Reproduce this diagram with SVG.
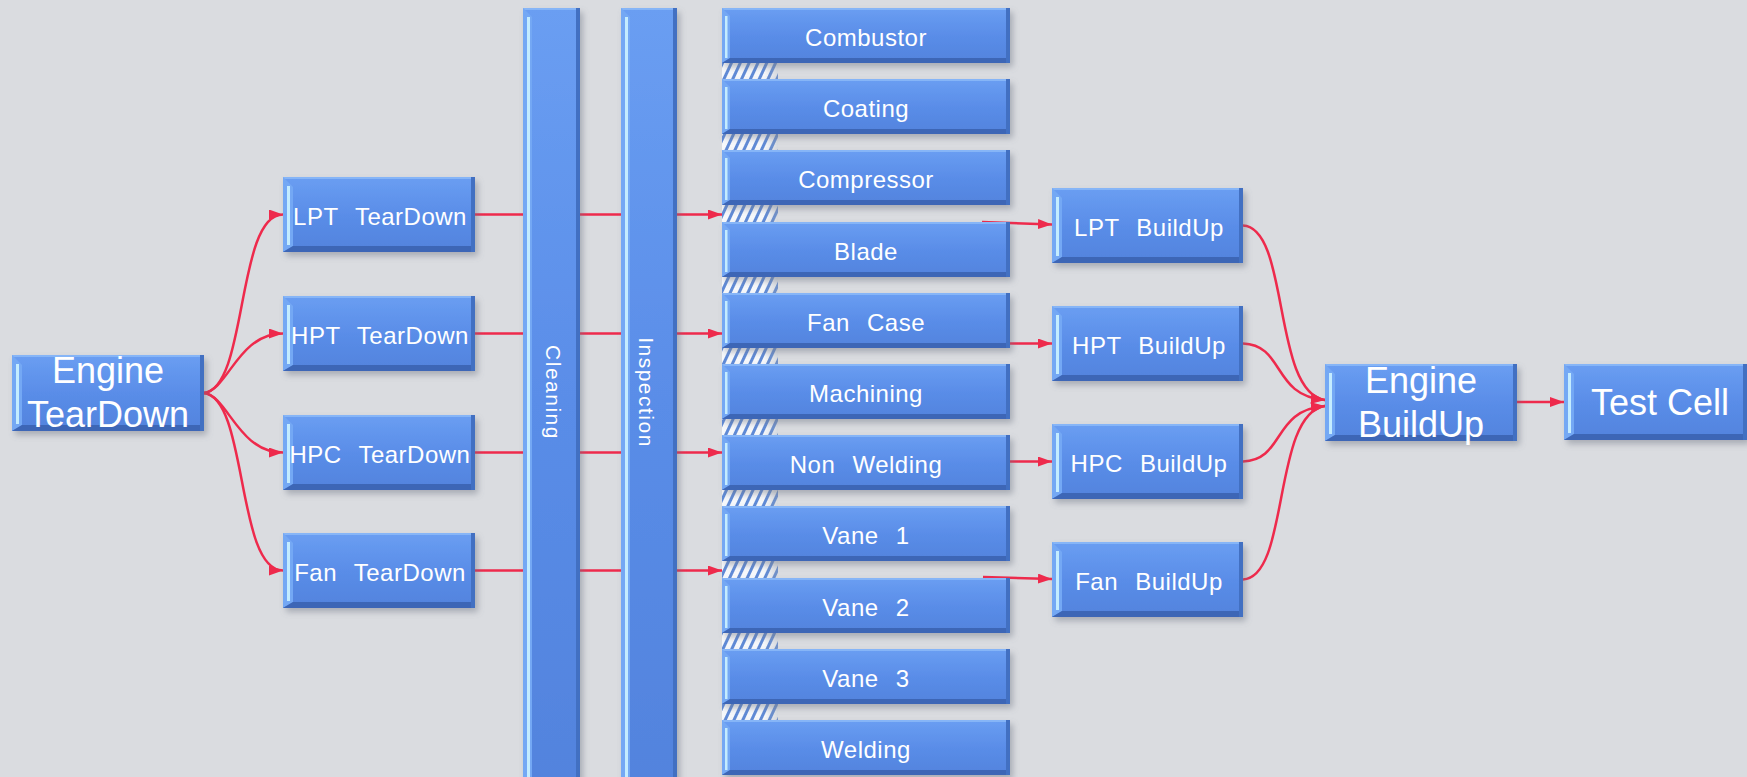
<svg xmlns="http://www.w3.org/2000/svg" width="1747" height="777" viewBox="0 0 1747 777">
<defs>
<style>
.face{fill:url(#faceGrad);filter:url(#sh)}
.bl{fill:#74A8F4}
.hl{fill:#C4ECFF}
.bb{fill:#3D66B6}
.br{fill:#4270C2}
.bt{fill:#86B5F7}
.hatch{fill:url(#hatchPat)}
.hfade{fill:url(#hatchFade)}
.lbl{font-family:"Liberation Sans",Arial,sans-serif;fill:#FFFFFF;text-anchor:middle}
.m{font-size:24px;letter-spacing:0.5px;word-spacing:10px}
.big{font-size:36px}
.v{font-size:21px;letter-spacing:1.5px}
.con{fill:none;stroke:#EE2A4C;stroke-width:2.5;marker-end:url(#arr)}
</style>
<linearGradient id="faceGrad" x1="0" y1="0" x2="0" y2="1">
<stop offset="0" stop-color="#6A9EF2"/>
<stop offset="0.5" stop-color="#5A8DE8"/>
<stop offset="1" stop-color="#5283DD"/>
</linearGradient>
<linearGradient id="hatchFade" x1="0" y1="0" x2="1" y2="0">
<stop offset="0.75" stop-color="#9AA0AA" stop-opacity="0"/>
<stop offset="1" stop-color="#9AA0AA" stop-opacity="0.35"/>
</linearGradient>
<pattern id="hatchPat" patternUnits="userSpaceOnUse" width="8" height="8" patternTransform="rotate(25)">
<rect width="8" height="8" fill="#F6F8FB"/>
<rect width="3" height="8" fill="#5F8AD6"/>
</pattern>
<filter id="sh" x="-10%" y="-10%" width="130%" height="140%">
<feDropShadow dx="3" dy="4" stdDeviation="3" flood-color="#6A7280" flood-opacity="0.45"/>
</filter>
<marker id="arr" markerUnits="userSpaceOnUse" markerWidth="14" markerHeight="10" refX="14" refY="5" orient="auto">
<path d="M0,0 L14,5 L0,10 z" fill="#EE2A4C"/>
</marker>
</defs>
<rect width="1747" height="777" fill="#DADCE0"/>

<g id="connectors">
<path class="con" d="M204,393 C248,388 236,214.5 283,214.5"/>
<path class="con" d="M204,393 C228,390 238,333.5 283,333.5"/>
<path class="con" d="M204,393 C228,396 238,452.5 283,452.5"/>
<path class="con" d="M204,393 C248,398 236,570.5 283,570.5"/>
<path class="con" d="M475,214.5 H722"/>
<path class="con" d="M475,333.5 H722"/>
<path class="con" d="M475,452.5 H722"/>
<path class="con" d="M475,570.5 H722"/>
<path class="con" d="M982,222 L1052,224.5"/>
<path class="con" d="M1010,343.5 H1052"/>
<path class="con" d="M1010,461.5 H1052"/>
<path class="con" d="M983,577 L1052,579"/>
<path class="con" d="M1243,225.5 C1290,228 1272,392 1325,400"/>
<path class="con" d="M1243,343.5 C1285,345 1272,396 1325,400"/>
<path class="con" d="M1243,461.5 C1285,460 1272,410 1325,406"/>
<path class="con" d="M1243,579.5 C1290,577 1272,414 1325,406"/>
<path class="con" d="M1517,402 H1564"/>
</g>

<g id="engine-teardown">
<rect class="face" x="12" y="355" width="192" height="76"/>
<rect class="bt" x="12" y="355" width="192" height="2"/>
<polygon class="bl" points="12,355 22,365 22,425 12,431"/>
<rect class="hl" x="16" y="364" width="3" height="60"/>
<polygon class="bb" points="12,431 22,425 204,425 204,431"/>
<rect class="br" x="200" y="355" width="4" height="76"/>
<text class="lbl big" x="108" y="383">Engine</text>
<text class="lbl big" x="108" y="427">TearDown</text>
</g>

<g id="lpt-teardown">
<rect class="face" x="283" y="177" width="192" height="75"/>
<rect class="bt" x="283" y="177" width="192" height="2"/>
<polygon class="bl" points="283,177 293,187 293,246 283,252"/>
<rect class="hl" x="287" y="186" width="3" height="59"/>
<polygon class="bb" points="283,252 293,246 475,246 475,252"/>
<rect class="br" x="471" y="177" width="4" height="75"/>
<text class="lbl m" x="380" y="225">LPT TearDown</text>
</g>
<g id="hpt-teardown">
<rect class="face" x="283" y="296" width="192" height="75"/>
<rect class="bt" x="283" y="296" width="192" height="2"/>
<polygon class="bl" points="283,296 293,306 293,365 283,371"/>
<rect class="hl" x="287" y="305" width="3" height="59"/>
<polygon class="bb" points="283,371 293,365 475,365 475,371"/>
<rect class="br" x="471" y="296" width="4" height="75"/>
<text class="lbl m" x="380" y="344">HPT TearDown</text>
</g>
<g id="hpc-teardown">
<rect class="face" x="283" y="415" width="192" height="75"/>
<rect class="bt" x="283" y="415" width="192" height="2"/>
<polygon class="bl" points="283,415 293,425 293,484 283,490"/>
<rect class="hl" x="287" y="424" width="3" height="59"/>
<polygon class="bb" points="283,490 293,484 475,484 475,490"/>
<rect class="br" x="471" y="415" width="4" height="75"/>
<text class="lbl m" x="380" y="463">HPC TearDown</text>
</g>
<g id="fan-teardown">
<rect class="face" x="283" y="533" width="192" height="75"/>
<rect class="bt" x="283" y="533" width="192" height="2"/>
<polygon class="bl" points="283,533 293,543 293,602 283,608"/>
<rect class="hl" x="287" y="542" width="3" height="59"/>
<polygon class="bb" points="283,608 293,602 475,602 475,608"/>
<rect class="br" x="471" y="533" width="4" height="75"/>
<text class="lbl m" x="380" y="581">Fan TearDown</text>
</g>

<g id="cleaning">
<rect class="face" x="523" y="8" width="57" height="780"/>
<rect class="bt" x="523" y="8" width="57" height="2"/>
<polygon class="bl" points="523,8 532,17 532,788 523,788"/>
<rect class="hl" x="527" y="17" width="3" height="771"/>
<rect class="br" x="576" y="8" width="4" height="780"/>
<text class="lbl v" transform="translate(546,392.5) rotate(90)">Cleaning</text>
</g>
<g id="inspection">
<rect class="face" x="621" y="8" width="56" height="780"/>
<rect class="bt" x="621" y="8" width="56" height="2"/>
<polygon class="bl" points="621,8 630,17 630,788 621,788"/>
<rect class="hl" x="625" y="17" width="3" height="771"/>
<rect class="br" x="673" y="8" width="4" height="780"/>
<text class="lbl v" transform="translate(639,392.5) rotate(90)">Inspection</text>
</g>

<g id="hatches">
<rect class="hatch" x="722" y="63" width="56" height="16"/><rect class="hfade" x="722" y="63" width="56" height="16"/>
<rect class="hatch" x="722" y="134" width="56" height="16"/><rect class="hfade" x="722" y="134" width="56" height="16"/>
<rect class="hatch" x="722" y="205" width="56" height="17"/><rect class="hfade" x="722" y="205" width="56" height="17"/>
<rect class="hatch" x="722" y="277" width="56" height="16"/><rect class="hfade" x="722" y="277" width="56" height="16"/>
<rect class="hatch" x="722" y="348" width="56" height="16"/><rect class="hfade" x="722" y="348" width="56" height="16"/>
<rect class="hatch" x="722" y="419" width="56" height="16"/><rect class="hfade" x="722" y="419" width="56" height="16"/>
<rect class="hatch" x="722" y="490" width="56" height="16"/><rect class="hfade" x="722" y="490" width="56" height="16"/>
<rect class="hatch" x="722" y="561" width="56" height="17"/><rect class="hfade" x="722" y="561" width="56" height="17"/>
<rect class="hatch" x="722" y="633" width="56" height="16"/><rect class="hfade" x="722" y="633" width="56" height="16"/>
<rect class="hatch" x="722" y="704" width="56" height="16"/><rect class="hfade" x="722" y="704" width="56" height="16"/>
</g>

<g id="combustor">
<rect class="face" x="722" y="8" width="288" height="55"/>
<rect class="bt" x="722" y="8" width="288" height="2"/>
<polygon class="bl" points="722,8 730,16 730,58 722,63"/>
<rect class="hl" x="725" y="16" width="2.5" height="42"/>
<polygon class="bb" points="722,63 730,58 1010,58 1010,63"/>
<rect class="br" x="1006" y="8" width="4" height="55"/>
<text class="lbl m" x="866" y="46">Combustor</text>
</g>
<g id="coating">
<rect class="face" x="722" y="79" width="288" height="55"/>
<rect class="bt" x="722" y="79" width="288" height="2"/>
<polygon class="bl" points="722,79 730,87 730,129 722,134"/>
<rect class="hl" x="725" y="87" width="2.5" height="42"/>
<polygon class="bb" points="722,134 730,129 1010,129 1010,134"/>
<rect class="br" x="1006" y="79" width="4" height="55"/>
<text class="lbl m" x="866" y="117">Coating</text>
</g>
<g id="compressor">
<rect class="face" x="722" y="150" width="288" height="55"/>
<rect class="bt" x="722" y="150" width="288" height="2"/>
<polygon class="bl" points="722,150 730,158 730,200 722,205"/>
<rect class="hl" x="725" y="158" width="2.5" height="42"/>
<polygon class="bb" points="722,205 730,200 1010,200 1010,205"/>
<rect class="br" x="1006" y="150" width="4" height="55"/>
<text class="lbl m" x="866" y="188">Compressor</text>
</g>
<g id="blade">
<rect class="face" x="722" y="222" width="288" height="55"/>
<rect class="bt" x="722" y="222" width="288" height="2"/>
<polygon class="bl" points="722,222 730,230 730,272 722,277"/>
<rect class="hl" x="725" y="230" width="2.5" height="42"/>
<polygon class="bb" points="722,277 730,272 1010,272 1010,277"/>
<rect class="br" x="1006" y="222" width="4" height="55"/>
<text class="lbl m" x="866" y="260">Blade</text>
</g>
<g id="fan-case">
<rect class="face" x="722" y="293" width="288" height="55"/>
<rect class="bt" x="722" y="293" width="288" height="2"/>
<polygon class="bl" points="722,293 730,301 730,343 722,348"/>
<rect class="hl" x="725" y="301" width="2.5" height="42"/>
<polygon class="bb" points="722,348 730,343 1010,343 1010,348"/>
<rect class="br" x="1006" y="293" width="4" height="55"/>
<text class="lbl m" x="866" y="331">Fan Case</text>
</g>
<g id="machining">
<rect class="face" x="722" y="364" width="288" height="55"/>
<rect class="bt" x="722" y="364" width="288" height="2"/>
<polygon class="bl" points="722,364 730,372 730,414 722,419"/>
<rect class="hl" x="725" y="372" width="2.5" height="42"/>
<polygon class="bb" points="722,419 730,414 1010,414 1010,419"/>
<rect class="br" x="1006" y="364" width="4" height="55"/>
<text class="lbl m" x="866" y="402">Machining</text>
</g>
<g id="non-welding">
<rect class="face" x="722" y="435" width="288" height="55"/>
<rect class="bt" x="722" y="435" width="288" height="2"/>
<polygon class="bl" points="722,435 730,443 730,485 722,490"/>
<rect class="hl" x="725" y="443" width="2.5" height="42"/>
<polygon class="bb" points="722,490 730,485 1010,485 1010,490"/>
<rect class="br" x="1006" y="435" width="4" height="55"/>
<text class="lbl m" x="866" y="473">Non Welding</text>
</g>
<g id="vane-1">
<rect class="face" x="722" y="506" width="288" height="55"/>
<rect class="bt" x="722" y="506" width="288" height="2"/>
<polygon class="bl" points="722,506 730,514 730,556 722,561"/>
<rect class="hl" x="725" y="514" width="2.5" height="42"/>
<polygon class="bb" points="722,561 730,556 1010,556 1010,561"/>
<rect class="br" x="1006" y="506" width="4" height="55"/>
<text class="lbl m" x="866" y="544">Vane 1</text>
</g>
<g id="vane-2">
<rect class="face" x="722" y="578" width="288" height="55"/>
<rect class="bt" x="722" y="578" width="288" height="2"/>
<polygon class="bl" points="722,578 730,586 730,628 722,633"/>
<rect class="hl" x="725" y="586" width="2.5" height="42"/>
<polygon class="bb" points="722,633 730,628 1010,628 1010,633"/>
<rect class="br" x="1006" y="578" width="4" height="55"/>
<text class="lbl m" x="866" y="616">Vane 2</text>
</g>
<g id="vane-3">
<rect class="face" x="722" y="649" width="288" height="55"/>
<rect class="bt" x="722" y="649" width="288" height="2"/>
<polygon class="bl" points="722,649 730,657 730,699 722,704"/>
<rect class="hl" x="725" y="657" width="2.5" height="42"/>
<polygon class="bb" points="722,704 730,699 1010,699 1010,704"/>
<rect class="br" x="1006" y="649" width="4" height="55"/>
<text class="lbl m" x="866" y="687">Vane 3</text>
</g>
<g id="welding">
<rect class="face" x="722" y="720" width="288" height="55"/>
<rect class="bt" x="722" y="720" width="288" height="2"/>
<polygon class="bl" points="722,720 730,728 730,770 722,775"/>
<rect class="hl" x="725" y="728" width="2.5" height="42"/>
<polygon class="bb" points="722,775 730,770 1010,770 1010,775"/>
<rect class="br" x="1006" y="720" width="4" height="55"/>
<text class="lbl m" x="866" y="758">Welding</text>
</g>

<g id="lpt-buildup">
<rect class="face" x="1052" y="188" width="191" height="75"/>
<rect class="bt" x="1052" y="188" width="191" height="2"/>
<polygon class="bl" points="1052,188 1062,198 1062,257 1052,263"/>
<rect class="hl" x="1056" y="197" width="3" height="59"/>
<polygon class="bb" points="1052,263 1062,257 1243,257 1243,263"/>
<rect class="br" x="1239" y="188" width="4" height="75"/>
<text class="lbl m" x="1149" y="236">LPT BuildUp</text>
</g>
<g id="hpt-buildup">
<rect class="face" x="1052" y="306" width="191" height="75"/>
<rect class="bt" x="1052" y="306" width="191" height="2"/>
<polygon class="bl" points="1052,306 1062,316 1062,375 1052,381"/>
<rect class="hl" x="1056" y="315" width="3" height="59"/>
<polygon class="bb" points="1052,381 1062,375 1243,375 1243,381"/>
<rect class="br" x="1239" y="306" width="4" height="75"/>
<text class="lbl m" x="1149" y="354">HPT BuildUp</text>
</g>
<g id="hpc-buildup">
<rect class="face" x="1052" y="424" width="191" height="75"/>
<rect class="bt" x="1052" y="424" width="191" height="2"/>
<polygon class="bl" points="1052,424 1062,434 1062,493 1052,499"/>
<rect class="hl" x="1056" y="433" width="3" height="59"/>
<polygon class="bb" points="1052,499 1062,493 1243,493 1243,499"/>
<rect class="br" x="1239" y="424" width="4" height="75"/>
<text class="lbl m" x="1149" y="472">HPC BuildUp</text>
</g>
<g id="fan-buildup">
<rect class="face" x="1052" y="542" width="191" height="75"/>
<rect class="bt" x="1052" y="542" width="191" height="2"/>
<polygon class="bl" points="1052,542 1062,552 1062,611 1052,617"/>
<rect class="hl" x="1056" y="551" width="3" height="59"/>
<polygon class="bb" points="1052,617 1062,611 1243,611 1243,617"/>
<rect class="br" x="1239" y="542" width="4" height="75"/>
<text class="lbl m" x="1149" y="590">Fan BuildUp</text>
</g>

<g id="engine-buildup">
<rect class="face" x="1325" y="364" width="192" height="77"/>
<rect class="bt" x="1325" y="364" width="192" height="2"/>
<polygon class="bl" points="1325,364 1335,374 1335,435 1325,441"/>
<rect class="hl" x="1329" y="373" width="3" height="61"/>
<polygon class="bb" points="1325,441 1335,435 1517,435 1517,441"/>
<rect class="br" x="1513" y="364" width="4" height="77"/>
<text class="lbl big" x="1421" y="393">Engine</text>
<text class="lbl big" x="1421" y="437">BuildUp</text>
</g>

<g id="test-cell">
<rect class="face" x="1564" y="364" width="183" height="76"/>
<rect class="bt" x="1564" y="364" width="183" height="2"/>
<polygon class="bl" points="1564,364 1574,374 1574,434 1564,440"/>
<rect class="hl" x="1568" y="373" width="3" height="60"/>
<polygon class="bb" points="1564,440 1574,434 1747,434 1747,440"/>
<rect class="br" x="1743" y="364" width="4" height="76"/>
<text class="lbl big" x="1660" y="415">Test Cell</text>
</g>
</svg>
